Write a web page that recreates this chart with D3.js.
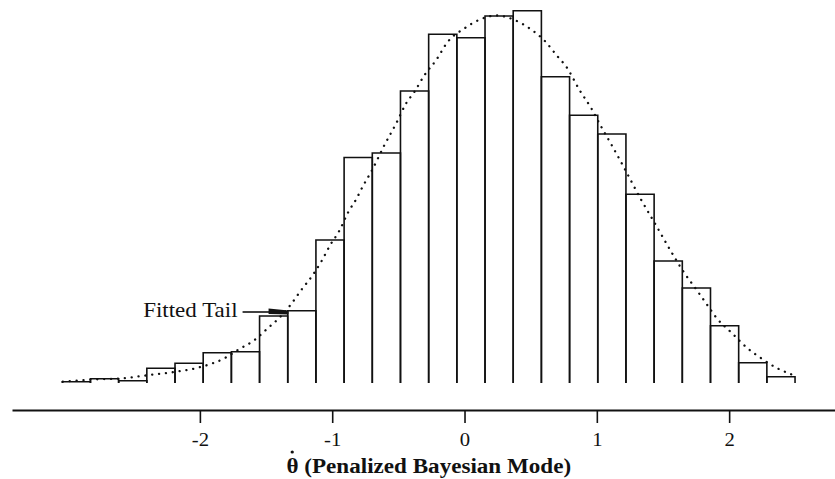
<!DOCTYPE html>
<html>
<head>
<meta charset="utf-8">
<script src="https://cdn.jsdelivr.net/npm/d3@7"></script>
<style>
  body { margin: 0; background: #fff; }
  svg { display: block; font-family: "Liberation Serif", "Times New Roman", serif; }
</style>
</head>
<body>
<div id="visualization"></div>
<script>
// histogram of the estimates, bins of equal width
let binStart = -3.04;
let binWidth = 0.213;
let counts = [1.3, 4.3, 2.3, 14.7, 19.7, 30.3, 31.3, 67, 72.3, 143, 225.5, 230, 292,
              348.7, 345.3, 367, 372.3, 306.3, 267.7, 249, 188.7, 122, 95, 57.3, 20.3, 6.3];

// fitted density
let curveX = [-3.036, -2.775, -2.624, -2.381, -2.179, -2.003, -1.801, -1.714, -1.587, -1.479,
              -1.411, -1.310, -1.234, -1.147, -1.083, -1.015, -0.950, -0.877, -0.819, -0.763,
              -0.705, -0.605, -0.516, -0.441, -0.378, -0.302, -0.214, -0.126, 0, 0.108,
              0.242, 0.378, 0.491, 0.605, 0.705, 0.769, 0.869, 0.958, 1.033, 1.119,
              1.202, 1.336, 1.449, 1.562, 1.663, 1.751, 1.831, 1.907, 2.023, 2.134,
              2.243, 2.356, 2.469];
let curveY = [1.3, 3.7, 4.3, 8, 11.3, 15.7, 25.7, 33, 43, 55.7,
              63.7, 79, 93, 108, 121.3, 138, 151.3, 171.3, 183.7, 198,
              211.3, 238, 259.7, 279.7, 291.3, 308, 323, 341.3, 354.7, 363,
              367.5, 363, 354.7, 342.3, 326.3, 316.3, 293, 274.7, 256.3, 236.3,
              216.3, 183, 157.3, 131.3, 109.7, 93.7, 78.7, 64.7, 49.7, 35.3,
              24.7, 15.3, 8.7];

let tickValues = [-2, -1, 0, 1, 2];
let xLabel = "\u03b8 (Penalized Bayesian Mode)";
let tailLabel = "Fitted Tail";
let tailPoint = [-1.36, 71];

let width = 835, height = 479;
let baseY = 383;
let axisY = 410;
let stretch = 1.15;

let x = d3.scaleLinear().domain([-3.42, 2.8]).range([12, 835]);
let y = d3.scaleLinear().domain([0, 375]).range([baseY, 8]);

let chart = d3.select("#visualization").append("svg")
  .attr("width", width)
  .attr("height", height);

// bars: open at the bottom
let bins = counts.map((c, i) => ({x0: binStart + i * binWidth, x1: binStart + (i + 1) * binWidth, c: c}));

chart.append("g").selectAll("path")
  .data(bins)
  .enter().append("path")
  .attr("d", b => `M${x(b.x0)},${y(0)}V${y(b.c)}H${x(b.x1)}V${y(0)}`)
  .attr("fill", "none")
  .attr("stroke", "#111")
  .attr("stroke-width", 1.6);

// dotted fitted curve
let line = d3.line()
  .x(d => x(d[0]))
  .y(d => y(d[1]))
  .curve(d3.curveMonotoneX);

chart.append("path")
  .datum(curveX.map((v, i) => [v, curveY[i]]))
  .attr("d", line)
  .attr("fill", "none")
  .attr("stroke", "#111")
  .attr("stroke-width", 2.3)
  .attr("stroke-linecap", "round")
  .attr("stroke-dasharray", "0.1 6.8");

// axis
let axis = chart.append("g")
  .attr("transform", `translate(0,${axisY})`)
  .call(d3.axisBottom(x).tickValues(tickValues).tickSize(13).tickSizeOuter(0).tickPadding(10)
        .tickFormat(d => d < 0 ? "-" + Math.abs(d) : d));

axis.select(".domain").attr("stroke", "#111").attr("stroke-width", 2);
axis.selectAll(".tick line").attr("stroke", "#111").attr("stroke-width", 1.6);
axis.selectAll(".tick text")
  .attr("fill", "#111")
  .attr("font-family", "Liberation Serif")
  .attr("font-size", 18)
  .attr("transform", `scale(${stretch},1)`);

// axis title, with the dot over theta drawn separately
let title = chart.append("g")
  .attr("transform", `translate(${x(-0.27)},473) scale(1.1,1)`);

let titleText = title.append("text")
  .attr("text-anchor", "middle")
  .attr("font-size", 21)
  .attr("font-weight", "bold")
  .attr("fill", "#111")
  .text(xLabel);

let tb = titleText.node().getBBox();
title.append("circle")
  .attr("cx", tb.x + 5.2)
  .attr("cy", -21)
  .attr("r", 1.5)
  .attr("fill", "#111");

// annotation
let tipX = x(tailPoint[0]), tipY = y(tailPoint[1]);
chart.append("text")
  .attr("transform", `translate(${tipX - 47},${tipY + 5}) scale(${stretch},1)`)
  .attr("text-anchor", "end")
  .attr("font-size", 20)
  .attr("fill", "#111")
  .text(tailLabel);

chart.append("line")
  .attr("x1", tipX - 42).attr("x2", tipX - 12)
  .attr("y1", tipY).attr("y2", tipY)
  .attr("stroke", "#111")
  .attr("stroke-width", 1.6);

chart.append("path")
  .attr("d", `M${tipX - 16},${tipY - 3.5}L${tipX + 4},${tipY - 1.5}L${tipX + 4},${tipY + 2.5}L${tipX - 16},${tipY + 2}Z`)
  .attr("fill", "#111");
</script>
</body>
</html>
